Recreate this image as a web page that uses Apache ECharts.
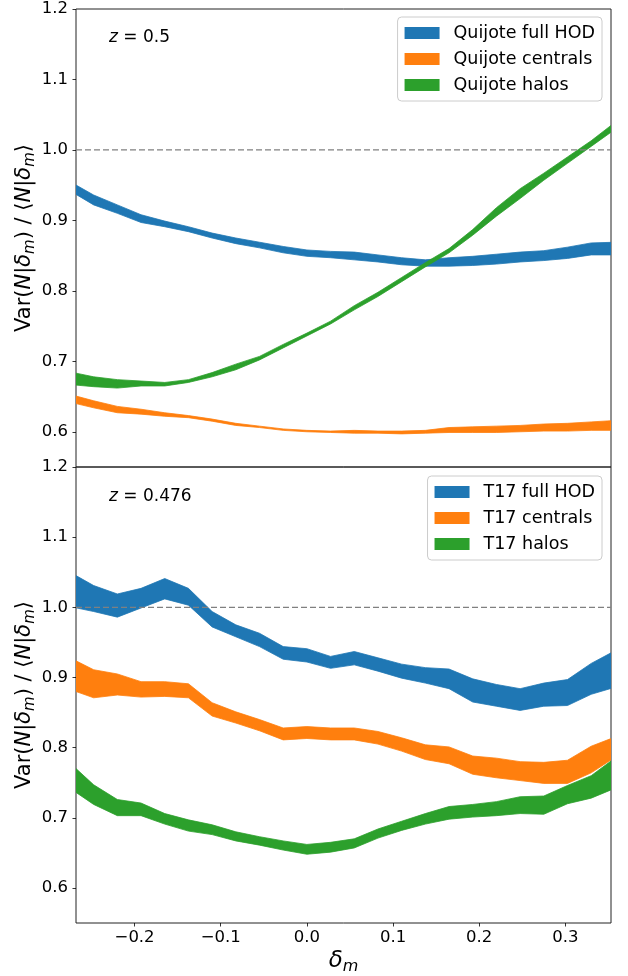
<!DOCTYPE html>
<html>
<head>
<meta charset="utf-8">
<script src="https://cdn.jsdelivr.net/npm/echarts/dist/echarts.min.js"></script>
<style>
html,body{margin:0;padding:0;background:#fff;}
#chart{width:628px;height:976px;}
</style>
</head>
<body>
<div id="chart"></div>
<script>
// ---- data ----
const deltaM = [-0.275, -0.2475, -0.22, -0.1925, -0.165, -0.1375, -0.11, -0.0825, -0.055, -0.0275, 0.0, 0.0275,
                0.055, 0.0825, 0.11, 0.1375, 0.165, 0.1925, 0.22, 0.2475, 0.275, 0.3025, 0.33, 0.3575];

const quijoteHodHi = [0.955, 0.936, 0.922, 0.908, 0.899, 0.891, 0.882, 0.875, 0.869, 0.863, 0.858, 0.856,
                      0.855, 0.851, 0.847, 0.844, 0.847, 0.849, 0.852, 0.855, 0.857, 0.862, 0.868, 0.869];
const quijoteHodLo = [0.942, 0.922, 0.910, 0.897, 0.891, 0.884, 0.875, 0.867, 0.861, 0.854, 0.849, 0.847,
                      0.844, 0.841, 0.837, 0.835, 0.835, 0.836, 0.838, 0.841, 0.843, 0.846, 0.851, 0.851];
const quijoteCenHi = [0.653, 0.644, 0.636, 0.632, 0.627, 0.623, 0.618, 0.612, 0.608, 0.604, 0.602, 0.601,
                      0.602, 0.601, 0.601, 0.602, 0.606, 0.607, 0.608, 0.609, 0.611, 0.612, 0.614, 0.616];
const quijoteCenLo = [0.642, 0.634, 0.627, 0.625, 0.622, 0.620, 0.615, 0.609, 0.606, 0.602, 0.600, 0.599,
                      0.598, 0.598, 0.597, 0.598, 0.599, 0.599, 0.599, 0.600, 0.601, 0.601, 0.602, 0.602];
const quijoteHaloHi = [0.685, 0.678, 0.674, 0.672, 0.670, 0.674, 0.684, 0.696, 0.707, 0.724, 0.740, 0.757,
                       0.779, 0.798, 0.819, 0.840, 0.860, 0.887, 0.918, 0.945, 0.967, 0.990, 1.013, 1.039];
const quijoteHaloLo = [0.667, 0.664, 0.662, 0.665, 0.665, 0.670, 0.678, 0.688, 0.702, 0.719, 0.736, 0.753,
                       0.773, 0.792, 0.813, 0.834, 0.854, 0.879, 0.906, 0.931, 0.957, 0.981, 1.005, 1.029];

const t17HodHi = [1.050, 1.031, 1.019, 1.027, 1.041, 1.027, 0.994, 0.975, 0.963, 0.944, 0.941, 0.930,
                  0.937, 0.928, 0.919, 0.914, 0.912, 0.898, 0.890, 0.884, 0.892, 0.897, 0.920, 0.938];
const t17HodLo = [1.001, 0.994, 0.986, 0.999, 1.012, 1.003, 0.972, 0.958, 0.944, 0.926, 0.922, 0.913,
                  0.918, 0.909, 0.899, 0.892, 0.884, 0.865, 0.859, 0.853, 0.859, 0.860, 0.876, 0.886];
const t17CenHi = [0.928, 0.911, 0.905, 0.894, 0.894, 0.891, 0.864, 0.851, 0.840, 0.828, 0.830, 0.828,
                  0.828, 0.823, 0.814, 0.804, 0.801, 0.788, 0.785, 0.780, 0.779, 0.782, 0.802, 0.815];
const t17CenLo = [0.883, 0.871, 0.875, 0.872, 0.873, 0.871, 0.845, 0.835, 0.824, 0.811, 0.813, 0.811,
                  0.811, 0.805, 0.795, 0.783, 0.777, 0.762, 0.757, 0.753, 0.749, 0.749, 0.764, 0.786];
const t17HaloHi = [0.778, 0.747, 0.726, 0.721, 0.706, 0.697, 0.690, 0.680, 0.673, 0.667, 0.662, 0.665,
                   0.670, 0.684, 0.695, 0.706, 0.716, 0.719, 0.723, 0.730, 0.731, 0.746, 0.760, 0.785];
const t17HaloLo = [0.742, 0.719, 0.703, 0.703, 0.691, 0.681, 0.676, 0.667, 0.661, 0.654, 0.648, 0.651,
                   0.657, 0.671, 0.682, 0.691, 0.698, 0.701, 0.703, 0.706, 0.705, 0.720, 0.728, 0.742];

const xTicks = [-0.2, -0.1, 0.0, 0.1, 0.2, 0.3];
const yTicks = [0.6, 0.7, 0.8, 0.9, 1.0, 1.1, 1.2];
const xLimits = [-0.268, 0.353];
const yLimits = [0.55, 1.2];
const refLevel = 1.0;
const topNames = ['Quijote full HOD', 'Quijote centrals', 'Quijote halos'];
const botNames = ['T17 full HOD', 'T17 centrals', 'T17 halos'];
const colors = ['#1f77b4', '#ff7f0e', '#2ca02c'];

// ---- chart ----
const FONT = 'DejaVu Sans';
const chart = echarts.init(document.getElementById('chart'), null, {renderer: 'canvas'});

function bandSeries(name, lo, hi, color, idx) {
  return {
    type: 'custom',
    name: name,
    xAxisIndex: idx, yAxisIndex: idx,
    itemStyle: {color: color},
    silent: true,
    z: 2,
    data: deltaM.map((x, i) => [x, lo[i], hi[i]]),
    encode: {x: 0, y: [1, 2]},
    renderItem: function (params, api) {
      if (params.dataIndex !== 0) return null;
      const pts = [];
      for (let i = 0; i < deltaM.length; i++) pts.push(api.coord([deltaM[i], hi[i]]));
      for (let i = deltaM.length - 1; i >= 0; i--) pts.push(api.coord([deltaM[i], lo[i]]));
      const cs = params.coordSys;
      return {
        type: 'polygon',
        shape: {points: pts},
        style: {fill: color, stroke: color, lineWidth: 0.8},
        clipPath: {type: 'rect', shape: {x: cs.x, y: cs.y, width: cs.width, height: cs.height}}
      };
    }
  };
}

function refLine(idx) {
  return {
    type: 'line', name: 'ref' + idx,
    xAxisIndex: idx, yAxisIndex: idx,
    data: [[xLimits[0], refLevel], [xLimits[1], refLevel]],
    symbol: 'none', silent: true, z: 5,
    lineStyle: {color: '#808080', width: 1.3, type: [6, 3]}
  };
}

const yName = '{r|Var(}{i|N}{r||}{i|δ}{s|m}{r|) / ⟨}{i|N}{r||}{i|δ}{s|m}{r|⟩}';
const yRich = {
  r: {fontFamily: FONT, fontSize: 21, color: '#000', lineHeight: 27, verticalAlign: 'middle'},
  i: {fontFamily: FONT, fontSize: 21, fontStyle: 'italic', color: '#000', lineHeight: 27, verticalAlign: 'middle'},
  s: {fontFamily: FONT, fontSize: 15, fontStyle: 'italic', color: '#000', lineHeight: 15, verticalAlign: 'bottom'}
};

function makeY(idx) {
  return {
    type: 'value', gridIndex: idx, min: yLimits[0], max: yLimits[1],
    splitLine: {show: false},
    axisLine: {show: false, onZero: false},
    axisTick: {show: true, length: 3.5, customValues: yTicks, lineStyle: {color: '#000', width: 0.8}},
    axisLabel: {show: true, customValues: yTicks, margin: 8, fontFamily: FONT, fontSize: 16.5, color: '#000',
      formatter: v => v.toFixed(1)},
    name: yName, nameLocation: 'middle', nameRotate: 90, nameGap: 38, nameMoveOverlap: false,
    nameTextStyle: {rich: yRich}
  };
}

const option = {
  animation: false,
  backgroundColor: '#fff',
  grid: [
    {left: 76, right: 17, top: 9, height: 458, show: true, borderColor: '#222', borderWidth: 1, backgroundColor: 'transparent'},
    {left: 76, right: 17, top: 467, height: 459, show: true, borderColor: '#222', borderWidth: 1, backgroundColor: 'transparent'}
  ],
  xAxis: [
    {type: 'value', gridIndex: 0, min: xLimits[0], max: xLimits[1], splitLine: {show: false},
      axisLine: {show: false, onZero: false}, axisTick: {show: false}, axisLabel: {show: false}},
    {type: 'value', gridIndex: 1, min: xLimits[0], max: xLimits[1], splitLine: {show: false},
      axisLine: {show: false, onZero: false},
      axisTick: {show: true, length: 3.5, customValues: xTicks, lineStyle: {color: '#000', width: 0.8}},
      axisLabel: {show: true, customValues: xTicks, margin: 6, fontFamily: FONT, fontSize: 16.5, color: '#000',
        formatter: v => (v < 0 ? '\u2212' : '') + Math.abs(v).toFixed(1)},
      name: '{i|δ}{s|m}', nameLocation: 'middle', nameGap: 24, nameMoveOverlap: false,
      nameTextStyle: {rich: {
        i: {fontFamily: FONT, fontSize: 23, fontStyle: 'italic', color: '#000', lineHeight: 28, verticalAlign: 'middle'},
        s: {fontFamily: FONT, fontSize: 16, fontStyle: 'italic', color: '#000', lineHeight: 16, verticalAlign: 'bottom'}
      }}
    }
  ],
  yAxis: [makeY(0), makeY(1)],
  legend: [
    {data: topNames, orient: 'vertical', right: 26, top: 17, icon: 'rect', itemWidth: 35, itemHeight: 12,
      itemGap: 8, padding: 7, borderColor: '#cccccc', borderWidth: 1, borderRadius: 4,
      backgroundColor: 'rgba(255,255,255,0.8)', selectedMode: false, itemStyle: {borderWidth: 0},
      textStyle: {fontFamily: FONT, fontSize: 17.5, color: '#000', padding: [0, 0, 0, 9]}},
    {data: botNames, orient: 'vertical', right: 26, top: 476, icon: 'rect', itemWidth: 35, itemHeight: 12,
      itemGap: 8, padding: 7, borderColor: '#cccccc', borderWidth: 1, borderRadius: 4,
      backgroundColor: 'rgba(255,255,255,0.8)', selectedMode: false, itemStyle: {borderWidth: 0},
      textStyle: {fontFamily: FONT, fontSize: 17.5, color: '#000', padding: [0, 0, 0, 9]}}
  ],
  graphic: [
    {type: 'text', left: 109, top: 29, silent: true, style: {
      text: '{i|z}{r| = 0.5}', rich: {
        i: {fontFamily: FONT, fontSize: 17, fontStyle: 'italic', fill: '#000'},
        r: {fontFamily: FONT, fontSize: 17, fill: '#000'}}}},
    {type: 'text', left: 109, top: 488, silent: true, style: {
      text: '{i|z}{r| = 0.476}', rich: {
        i: {fontFamily: FONT, fontSize: 17, fontStyle: 'italic', fill: '#000'},
        r: {fontFamily: FONT, fontSize: 17, fill: '#000'}}}}
  ],
  series: [
    bandSeries(topNames[0], quijoteHodLo, quijoteHodHi, colors[0], 0),
    bandSeries(topNames[1], quijoteCenLo, quijoteCenHi, colors[1], 0),
    bandSeries(topNames[2], quijoteHaloLo, quijoteHaloHi, colors[2], 0),
    refLine(0),
    bandSeries(botNames[0], t17HodLo, t17HodHi, colors[0], 1),
    bandSeries(botNames[1], t17CenLo, t17CenHi, colors[1], 1),
    bandSeries(botNames[2], t17HaloLo, t17HaloHi, colors[2], 1),
    refLine(1)
  ]
};
chart.setOption(option);
</script>
</body>
</html>
